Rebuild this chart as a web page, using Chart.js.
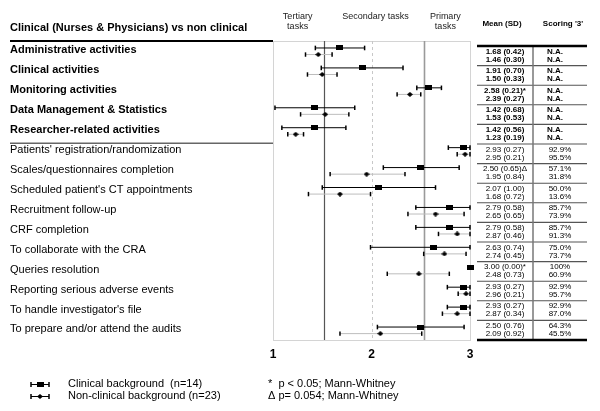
<!DOCTYPE html>
<html>
<head>
<meta charset="utf-8">
<script src="https://cdn.jsdelivr.net/npm/chart.js@4.4.0/dist/chart.umd.min.js"></script>
<style>
  html, body { margin: 0; padding: 0; background: #fff; }
  #wrap { width: 600px; height: 411px; }
</style>
</head>
<body>
<div id="wrap"><canvas id="c" width="600" height="411"></canvas></div>
<script>
// ---------- DATA ----------
const categories = [
  "Administrative activities",
  "Clinical activities",
  "Monitoring activities",
  "Data Management & Statistics",
  "Researcher-related activities",
  "Patients' registration/randomization",
  "Scales/questionnaires completion",
  "Scheduled patient's CT appointments",
  "Recruitment follow-up",
  "CRF completion",
  "To collaborate with the CRA",
  "Queries resolution",
  "Reporting serious adverse events",
  "To handle investigator's file",
  "To prepare and/or attend the audits"
];
const clinicalMean = [1.68, 1.91, 2.58, 1.42, 1.42, 2.93, 2.50, 2.07, 2.79, 2.79, 2.63, 3.00, 2.93, 2.93, 2.50];
const clinicalLow  = [1.43, 1.49, 2.46, 1.02, 1.09, 2.78, 2.12, 1.50, 2.45, 2.45, 1.99, null, 2.77, 2.77, 2.06];
const clinicalHigh = [1.93, 2.32, 2.71, 1.83, 1.74, 3.00, 2.89, 2.65, 3.00, 3.00, 3.00, null, 3.00, 3.00, 2.94];
const nonMean = [1.46, 1.50, 2.39, 1.53, 1.23, 2.95, 1.95, 1.68, 2.65, 2.87, 2.74, 2.48, 2.96, 2.87, 2.09];
const nonLow  = [1.33, 1.35, 2.26, 1.28, 1.15, 2.87, 1.58, 1.36, 2.37, 2.68, 2.53, 2.16, 2.88, 2.72, 1.68];
const nonHigh = [1.60, 1.65, 2.50, 1.77, 1.31, 3.00, 2.34, 1.99, 2.94, 3.00, 2.96, 2.79, 3.00, 3.00, 2.51];
const clinicalMeanText = ["1.68 (0.42)", "1.91 (0.70)", "2.58 (0.21)*", "1.42 (0.68)", "1.42 (0.56)",
  "2.93 (0.27)", "2.50 (0.65)\u0394", "2.07 (1.00)", "2.79 (0.58)", "2.79 (0.58)", "2.63 (0.74)",
  "3.00 (0.00)*", "2.93 (0.27)", "2.93 (0.27)", "2.50 (0.76)"];
const nonMeanText = ["1.46 (0.30)", "1.50 (0.33)", "2.39 (0.27)", "1.53 (0.53)", "1.23 (0.19)",
  "2.95 (0.21)", "1.95 (0.84)", "1.68 (0.72)", "2.65 (0.65)", "2.87 (0.46)", "2.74 (0.45)",
  "2.48 (0.73)", "2.96 (0.21)", "2.87 (0.34)", "2.09 (0.92)"];
const clinicalScore = ["N.A.", "N.A.", "N.A.", "N.A.", "N.A.", "92.9%", "57.1%", "50.0%", "85.7%", "85.7%", "75.0%", "100%", "92.9%", "92.9%", "64.3%"];
const nonScore = ["N.A.", "N.A.", "N.A.", "N.A.", "N.A.", "95.5%", "31.8%", "13.6%", "73.9%", "91.3%", "73.7%", "60.9%", "95.7%", "87.0%", "45.5%"];
const xTicks = [1, 2, 3];
const refLines = [1.52, 2.0, 2.53];
const headerLabels = [["Tertiary", "tasks"], ["Secondary tasks"], ["Primary", "tasks"]];
const headerPos = [1.25, 2.04, 2.75];
const title = "Clinical (Nurses & Physicians) vs non clinical";
const legendLabels = ["Clinical background  (n=14)", "Non-clinical background (n=23)"];
const footnotes = ["*  p < 0.05; Mann-Whitney", "\u0394 p= 0.054; Mann-Whitney"];
const tableHeaders = ["Mean (SD)", "Scoring '3'"];

// ---------- helpers ----------
const FONT = "'Liberation Sans', Arial, Helvetica, sans-serif";
const nGroups = categories.length;
const nBold = 5;
const yC = i => i + 0.35;
const yN = i => i + 0.68;

function makeRect() {
  const c = document.createElement('canvas'); c.width = 7; c.height = 5;
  const g = c.getContext('2d'); g.fillStyle = '#000'; g.fillRect(0, 0, 7, 5); return c;
}
function makeDiamond() {
  const c = document.createElement('canvas'); c.width = 6; c.height = 5;
  const g = c.getContext('2d'); g.fillStyle = '#000';
  g.beginPath(); g.moveTo(3, 0); g.lineTo(6, 2.5); g.lineTo(3, 5); g.lineTo(0, 2.5); g.closePath(); g.fill(); return c;
}
const rectImg = makeRect();
const diamondImg = makeDiamond();

function segs(lo, hi, yf) {
  const out = [];
  lo.forEach((l, i) => {
    if (l === null) return;
    out.push({x: l, y: yf(i)}, {x: hi[i], y: yf(i)}, {x: hi[i], y: null});
  });
  return out;
}
function caps(lo, hi, yf) {
  const out = [];
  lo.forEach((l, i) => {
    if (l === null) return;
    out.push({x: l, y: yf(i)}, {x: hi[i], y: yf(i)});
  });
  return out;
}

const extras = {
  id: 'extras',
  beforeDatasetsDraw(chart) {
    const {ctx, chartArea: a, scales: {x}} = chart;
    ctx.save();
    // plot frame
    ctx.strokeStyle = '#d4d4d4'; ctx.lineWidth = 1;
    ctx.strokeRect(a.left + 0.5, a.top + 0.5, a.right - a.left, a.bottom - a.top);
    // reference lines
    refLines.forEach((v, i) => {
      const px = Math.round(x.getPixelForValue(v)) + 0.5;
      ctx.beginPath();
      if (i === 1) { ctx.setLineDash([3, 3]); ctx.strokeStyle = '#c8c8c8'; ctx.lineWidth = 1; }
      else if (i === 0) { ctx.setLineDash([]); ctx.strokeStyle = '#555'; ctx.lineWidth = 1.2; }
      else { ctx.setLineDash([]); ctx.strokeStyle = '#9a9a9a'; ctx.lineWidth = 1.6; }
      ctx.moveTo(px, a.top); ctx.lineTo(px, a.bottom); ctx.stroke();
    });
    ctx.setLineDash([]);
    ctx.restore();
  },
  afterDraw(chart) {
    const {ctx, chartArea: a, scales: {x, y}} = chart;
    ctx.save();
    ctx.textBaseline = 'middle';
    ctx.fillStyle = '#000';
    // title
    ctx.font = 'bold 11px ' + FONT; ctx.textAlign = 'left';
    ctx.fillText(title, 10, 28);
    // left lines
    ctx.strokeStyle = '#000'; ctx.lineWidth = 1.8;
    ctx.beginPath(); ctx.moveTo(10, a.top); ctx.lineTo(a.left, a.top); ctx.stroke();
    ctx.strokeStyle = '#666'; ctx.lineWidth = 1.5;
    const sepY = 143.3;
    ctx.beginPath(); ctx.moveTo(10, sepY); ctx.lineTo(a.left, sepY); ctx.stroke();
    // category labels
    categories.forEach((c, i) => {
      ctx.font = (i < nBold ? 'bold ' : '') + '11px ' + FONT;
      ctx.fillText(c, 10, y.getPixelForValue(i + 0.47));
    });
    // header labels
    ctx.fillStyle = '#222'; ctx.font = '9px ' + FONT; ctx.textAlign = 'center';
    headerLabels.forEach((lines, i) => {
      const px = x.getPixelForValue(headerPos[i]);
      lines.forEach((t, j) => ctx.fillText(t, px, 17 + j * 10));
    });
    // table
    const tL = 477, tR = 587, tD = 533, tTop = 46, tBot = 340;
    const gh = (tBot - tTop) / nGroups;
    ctx.fillStyle = '#000';
    ctx.font = 'bold 8px ' + FONT;
    ctx.fillText(tableHeaders[0], 502, 24);
    ctx.fillText(tableHeaders[1], 563, 24);
    ctx.strokeStyle = '#555'; ctx.lineWidth = 1.1;
    for (let k = 1; k < nGroups; k++) {
      const yy = tTop + gh * k;
      ctx.beginPath(); ctx.moveTo(tL, yy); ctx.lineTo(tR, yy); ctx.stroke();
    }
    ctx.strokeStyle = '#777'; ctx.lineWidth = 1.5;
    ctx.beginPath(); ctx.moveTo(tD, tTop); ctx.lineTo(tD, tBot); ctx.stroke();
    ctx.strokeStyle = '#000'; ctx.lineWidth = 2.5;
    ctx.beginPath(); ctx.moveTo(tL, tTop); ctx.lineTo(tR, tTop); ctx.stroke();
    ctx.beginPath(); ctx.moveTo(tL, tBot); ctx.lineTo(tR, tBot); ctx.stroke();
    for (let k = 0; k < nGroups; k++) {
      const top = tTop + gh * k;
      ctx.font = (k < nBold ? 'bold ' : '') + '8px ' + FONT;
      ctx.fillText(clinicalMeanText[k], 505, top + 5.4);
      ctx.fillText(nonMeanText[k], 505, top + 13.4);
      const sx = k < nBold ? 555 : 560;
      ctx.fillText(clinicalScore[k], sx, top + 5.4);
      ctx.fillText(nonScore[k], sx, top + 13.4);
    }
    // legend
    const legY = [384.5, 396.5];
    legY.forEach((ly, i) => {
      ctx.strokeStyle = '#000'; ctx.lineWidth = 1;
      ctx.beginPath(); ctx.moveTo(31, ly); ctx.lineTo(49, ly); ctx.stroke();
      ctx.lineWidth = 1.5;
      ctx.beginPath(); ctx.moveTo(31, ly - 2.5); ctx.lineTo(31, ly + 2.5);
      ctx.moveTo(49, ly - 2.5); ctx.lineTo(49, ly + 2.5); ctx.stroke();
      ctx.drawImage(i === 0 ? rectImg : diamondImg, i === 0 ? 36.5 : 37, ly - 2.5);
      ctx.fillStyle = '#000'; ctx.font = '11px ' + FONT; ctx.textAlign = 'left';
      ctx.fillText(legendLabels[i], 68, ly - 0.5);
      ctx.fillText(footnotes[i], 268, ly - 1);
    });
    ctx.restore();
  }
};

new Chart(document.getElementById('c'), {
  type: 'scatter',
  data: {
    datasets: [
      { label: 'Clinical', data: clinicalMean.map((m, i) => ({x: m, y: yC(i)})),
        pointStyle: rectImg, pointRadius: 4, clip: false },
      { label: 'Non-clinical', data: nonMean.map((m, i) => ({x: m, y: yN(i)})),
        pointStyle: diamondImg, pointRadius: 3, clip: false },
      { label: 'C caps', data: caps(clinicalLow, clinicalHigh, yC), pointStyle: 'line', rotation: 90,
        pointRadius: 2.3, borderColor: '#000', borderWidth: 1.5, clip: false },
      { label: 'N caps', data: caps(nonLow, nonHigh, yN), pointStyle: 'line', rotation: 90,
        pointRadius: 2.2, borderColor: '#000', borderWidth: 1.5, clip: false },
      { label: 'C whiskers', data: segs(clinicalLow, clinicalHigh, yC), showLine: true, spanGaps: false,
        borderColor: '#000', borderWidth: 1, pointRadius: 0, clip: false },
      { label: 'N whiskers', data: segs(nonLow, nonHigh, yN), showLine: true, spanGaps: false,
        borderColor: '#bdbdbd', borderWidth: 1, pointRadius: 0, clip: false }
    ]
  },
  options: {
    responsive: false,
    animation: false,
    events: [],
    layout: { padding: { left: 273, right: 130, top: 41, bottom: 47 } },
    plugins: { legend: { display: false }, tooltip: { enabled: false } },
    scales: {
      x: {
        type: 'linear', min: 1, max: 3,
        afterBuildTicks: s => { s.ticks = xTicks.map(v => ({value: v})); },
        ticks: { font: { family: FONT, size: 12, weight: 'bold' }, color: '#000', padding: 7 },
        grid: { display: false, drawTicks: false },
        border: { display: false },
        afterFit: s => { s.height = 24; }
      },
      y: { type: 'linear', min: 0, max: 15, reverse: true, display: false }
    }
  },
  plugins: [extras]
});
</script>
</body>
</html>
